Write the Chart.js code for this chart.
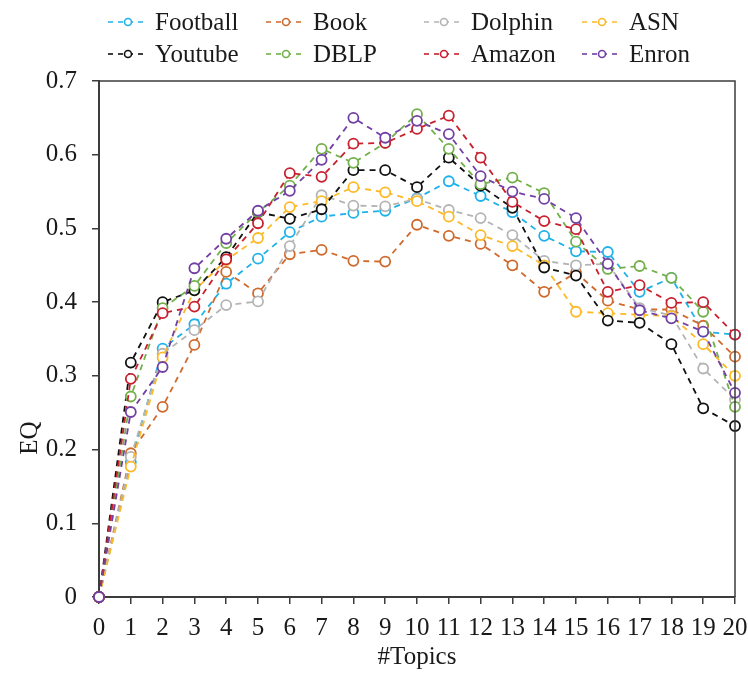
<!DOCTYPE html>
<html>
<head>
<meta charset="utf-8">
<script src="https://cdn.jsdelivr.net/npm/chart.js@4"></script>
<style>
  html, body { margin: 0; padding: 0; background: #fff; }
  #wrap { width: 748px; height: 673px; }
</style>
</head>
<body>
<div id="wrap"><canvas id="eqChart" width="748" height="673"></canvas></div>
<script>
// ---------- DATA ----------
const topics = ["0","1","2","3","4","5","6","7","8","9","10","11","12","13","14","15","16","17","18","19","20"];
const yTicks = ["0", "0.1", "0.2", "0.3", "0.4", "0.5", "0.6", "0.7"];

const football = [0, 0.183, 0.337, 0.37, 0.425, 0.459, 0.495, 0.516, 0.521, 0.524, 0.541, 0.564, 0.544, 0.522, 0.49, 0.469, 0.468, 0.414, 0.433, 0.36, 0.356];
const book     = [0, 0.195, 0.258, 0.342, 0.441, 0.412, 0.465, 0.471, 0.456, 0.455, 0.505, 0.49, 0.479, 0.45, 0.414, 0.44, 0.402, 0.39, 0.39, 0.368, 0.326];
const dolphin  = [0, 0.19, 0.33, 0.362, 0.396, 0.401, 0.476, 0.545, 0.531, 0.53, 0.54, 0.525, 0.514, 0.491, 0.456, 0.45, 0.452, 0.392, 0.382, 0.31, 0.268];
const asn      = [0, 0.177, 0.325, 0.416, 0.457, 0.487, 0.529, 0.537, 0.556, 0.549, 0.537, 0.516, 0.491, 0.476, 0.45, 0.387, 0.385, 0.383, 0.381, 0.343, 0.3];
const youtube  = [0, 0.318, 0.4, 0.416, 0.461, 0.522, 0.513, 0.526, 0.579, 0.579, 0.556, 0.596, 0.558, 0.528, 0.447, 0.436, 0.375, 0.372, 0.343, 0.256, 0.232];
const dblp     = [0, 0.272, 0.392, 0.422, 0.48, 0.522, 0.558, 0.608, 0.589, 0.616, 0.655, 0.608, 0.56, 0.569, 0.548, 0.482, 0.445, 0.449, 0.433, 0.387, 0.258];
const amazon   = [0, 0.296, 0.385, 0.394, 0.458, 0.507, 0.575, 0.57, 0.615, 0.616, 0.635, 0.653, 0.596, 0.536, 0.51, 0.499, 0.414, 0.423, 0.399, 0.4, 0.356];
const enron    = [0, 0.251, 0.312, 0.446, 0.486, 0.524, 0.551, 0.593, 0.65, 0.623, 0.646, 0.628, 0.571, 0.55, 0.54, 0.514, 0.452, 0.389, 0.378, 0.36, 0.277];

const seriesNames  = ["Football", "Book", "Dolphin", "ASN", "Youtube", "DBLP", "Amazon", "Enron"];
const seriesValues = [football, book, dolphin, asn, youtube, dblp, amazon, enron];
const seriesColors = ["#1FB2E8", "#CF6A2C", "#B4B4B4", "#FDB927", "#111111", "#72B04A", "#C8202F", "#7240A4"];

const FONT = "'Liberation Serif', 'Times New Roman', serif";
const AXIS_COLOR = "#3c3c3c";
const TEXT_COLOR = "#1a1a1a";

// ---------- PLUGINS ----------
// frame round the plot area (top + right edges)
const framePlugin = {
  id: "frame",
  afterDraw(chart) {
    const { ctx, chartArea: a } = chart;
    ctx.save();
    ctx.strokeStyle = AXIS_COLOR;
    ctx.lineWidth = 1.5;
    ctx.beginPath();
    ctx.moveTo(a.left, a.top);
    ctx.lineTo(a.right, a.top);
    ctx.lineTo(a.right, a.bottom);
    ctx.stroke();
    ctx.restore();
  }
};

// legend: 2 rows x 4 columns, dashed line sample with a circle
const legendPlugin = {
  id: "gridLegend",
  afterDraw(chart) {
    const ctx = chart.ctx;
    ctx.save();
    ctx.font = "25px " + FONT;
    ctx.textBaseline = "middle";
    seriesNames.forEach((name, i) => {
      const col = i % 4, row = Math.floor(i / 4);
      const x = 108 + col * 158;
      const y = 22 + row * 32;
      ctx.strokeStyle = seriesColors[i];
      ctx.lineWidth = 1.6;
      ctx.setLineDash([5, 5]);
      ctx.beginPath();
      ctx.moveTo(x, y);
      ctx.lineTo(x + 40, y);
      ctx.stroke();
      ctx.setLineDash([]);
      ctx.fillStyle = "#fff";
      ctx.beginPath();
      ctx.arc(x + 20, y, 3.5, 0, Math.PI * 2);
      ctx.fill();
      ctx.stroke();
      ctx.fillStyle = TEXT_COLOR;
      ctx.textAlign = "left";
      ctx.fillText(name, x + 47, y + 1);
    });

    // axis titles
    ctx.fillStyle = TEXT_COLOR;
    ctx.textAlign = "center";
    ctx.fillText("#Topics", 417, 657);
    ctx.translate(30, 438);
    ctx.rotate(-Math.PI / 2);
    ctx.fillText("EQ", 0, 0);
    ctx.restore();
  }
};

// ---------- CHART ----------
const datasets = seriesNames.map((name, i) => ({
  label: name,
  data: seriesValues[i],
  borderColor: seriesColors[i],
  backgroundColor: "#fff",
  pointBackgroundColor: "#fff",
  pointBorderColor: seriesColors[i],
  pointRadius: 5,
  pointBorderWidth: 1.8,
  borderWidth: 1.8,
  borderDash: [6, 5],
  tension: 0,
  clip: 8,
  order: seriesNames.length - i
}));

new Chart(document.getElementById("eqChart"), {
  type: "line",
  data: { labels: topics, datasets },
  options: {
    responsive: false,
    animation: false,
    devicePixelRatio: 1,
    layout: { autoPadding: false, padding: { top: 81, right: 13, left: 0, bottom: 0 } },
    plugins: {
      legend: { display: false },
      tooltip: { enabled: false }
    },
    scales: {
      x: {
        offset: false,
        grid: { drawOnChartArea: false, drawTicks: true, tickLength: 7, color: AXIS_COLOR, lineWidth: 1.5 },
        border: { color: AXIS_COLOR, width: 2 },
        ticks: { font: { family: FONT, size: 25 }, color: TEXT_COLOR, padding: 9, maxRotation: 0, autoSkip: false },
        afterFit(scale) {
          scale.height = 76;
          scale.paddingLeft = 0;
          scale.paddingRight = 0;
        }
      },
      y: {
        min: 0,
        max: 0.7,
        grid: { drawOnChartArea: false, drawTicks: true, tickLength: 7, color: AXIS_COLOR, lineWidth: 1.5 },
        border: { color: AXIS_COLOR, width: 2 },
        ticks: {
          stepSize: 0.1,
          font: { family: FONT, size: 25 },
          color: TEXT_COLOR,
          padding: 15,
          callback: (v, idx) => yTicks[idx]
        },
        afterFit(scale) {
          scale.width = 99;
          scale.paddingTop = 0;
          scale.paddingBottom = 0;
        }
      }
    }
  },
  plugins: [framePlugin, legendPlugin]
});
</script>
</body>
</html>
